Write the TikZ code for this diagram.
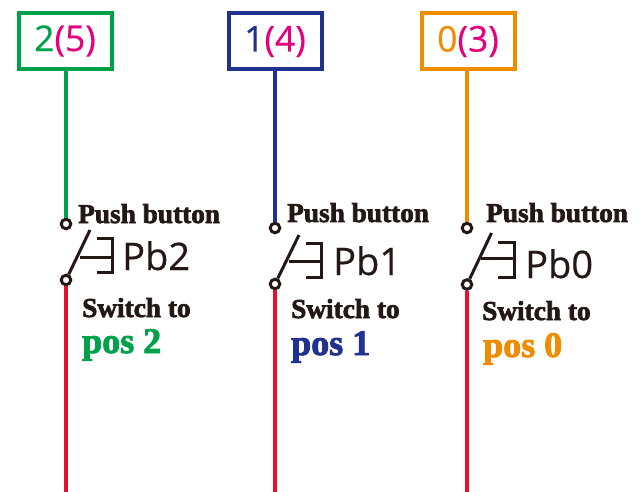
\documentclass[tikz,border=0pt]{standalone}
\usepackage{fontspec}
\setmainfont{Liberation Serif}
\newfontfamily\heavy[FakeBold=2.4]{Liberation Serif Bold}
\newfontfamily\plainsans[FakeBold=0.4]{Open Sans}
\definecolor{cgreen}{HTML}{00A14B}
\definecolor{cblue}{HTML}{21318F}
\definecolor{corange}{HTML}{F08C00}
\definecolor{cred}{HTML}{E60F2D}
\definecolor{cpink}{HTML}{E6007E}
\definecolor{cink}{HTML}{231815}
\tikzset{
  x=1pt,y=-1pt,
  boxnode/.style={draw,line width=4pt,minimum width=93pt,minimum height=56pt,inner sep=0pt,fill=white,font=\plainsans\fontsize{35.5}{35.5}\selectfont},
  wirecol/.style={line width=3.4pt},
  term/.style={circle,draw=cink,line width=3pt,fill=white,minimum size=9.5pt,inner sep=0pt},
  lab/.style={anchor=base west,inner sep=0pt,text=cink},
  pushlab/.style={lab,font=\heavy\fontsize{27.3}{27.3}\selectfont},
  poslab/.style={lab,font=\heavy\fontsize{36}{36}\selectfont},
  pblab/.style={lab,font=\plainsans\fontsize{38}{38}\selectfont},
  sw/.style={draw=cink,line width=3pt,line cap=butt}
}
\begin{document}
\begin{tikzpicture}
\useasboundingbox (0,0) rectangle (643,492);
\fill[white] (0,0) rectangle (643,492);
% Group 2
\node[boxnode,draw=cgreen] (b2) at (65,41) {\textcolor{cgreen}{2}\textcolor{cpink}{(5)}};
\node[term] (u2) at (66,224) {};
\node[term] (l2) at (66,280) {};
\coordinate (e2) at (65.5,492);
\draw[wirecol,draw=cgreen] (b2.south -| u2) -- (u2);
\draw[wirecol,draw=cred] (l2) -- (l2 |- e2);
\coordinate (t2) at (90,230);
\draw[sw] (l2) -- (t2);
\draw[sw] (80,257) -- (112.5,257) (97,238.5) -- (112.5,238.5) -- (112.5,272.5) -- (97,272.5);
\node[pushlab] (p2) at (78,223) {Push button};
\node[pblab] (n2) at (122,270) {Pb2};
\node[pushlab] (s2) at (82,317) {Switch to};
\node[poslab,text=cgreen] (q2) at (82,353) {pos 2};
% Group 1
\node[boxnode,draw=cblue] (b1) at (275,41.5) {\textcolor{cblue}{1}\textcolor{cpink}{(4)}};
\node[term] (u1) at (275,228) {};
\node[term] (l1) at (275,284) {};
\coordinate (e1) at (274.5,492);
\draw[wirecol,draw=cblue] (b1.south -| u1) -- (u1);
\draw[wirecol,draw=cred] (l1) -- (l1 |- e1);
\coordinate (t1) at (299,235);
\draw[sw] (l1) -- (t1);
\draw[sw] (289,261) -- (321.5,261) (306,243) -- (321.5,243) -- (321.5,277) -- (306,277);
\node[pushlab] (p1) at (287,222) {Push button};
\node[pblab] (n1) at (333,275) {Pb1};
\node[pushlab] (s1) at (291,318) {Switch to};
\node[poslab,text=cblue] (q1) at (291,355) {pos 1};
% Group 0
\node[boxnode,draw=corange] (b0) at (468,41.5) {\textcolor{corange}{0}\textcolor{cpink}{(3)}};
\node[term] (u0) at (467,228) {};
\node[term] (l0) at (467,284.5) {};
\coordinate (e0) at (467,492);
\draw[wirecol,draw=corange] (b0.south -| u0) -- (u0);
\draw[wirecol,draw=cred] (l0) -- (l0 |- e0);
\coordinate (t0) at (491.5,233);
\draw[sw] (l0) -- (t0);
\draw[sw] (481,258) -- (514.5,258) (498,242) -- (514.5,242) -- (514.5,277) -- (498,277);
\node[pushlab] (p0) at (486,222) {Push button};
\node[pblab] (n0) at (525,278) {Pb0};
\node[pushlab] (s0) at (482,320) {Switch to};
\node[poslab,text=corange] (q0) at (483,357) {pos 0};
\end{tikzpicture}
\end{document}
